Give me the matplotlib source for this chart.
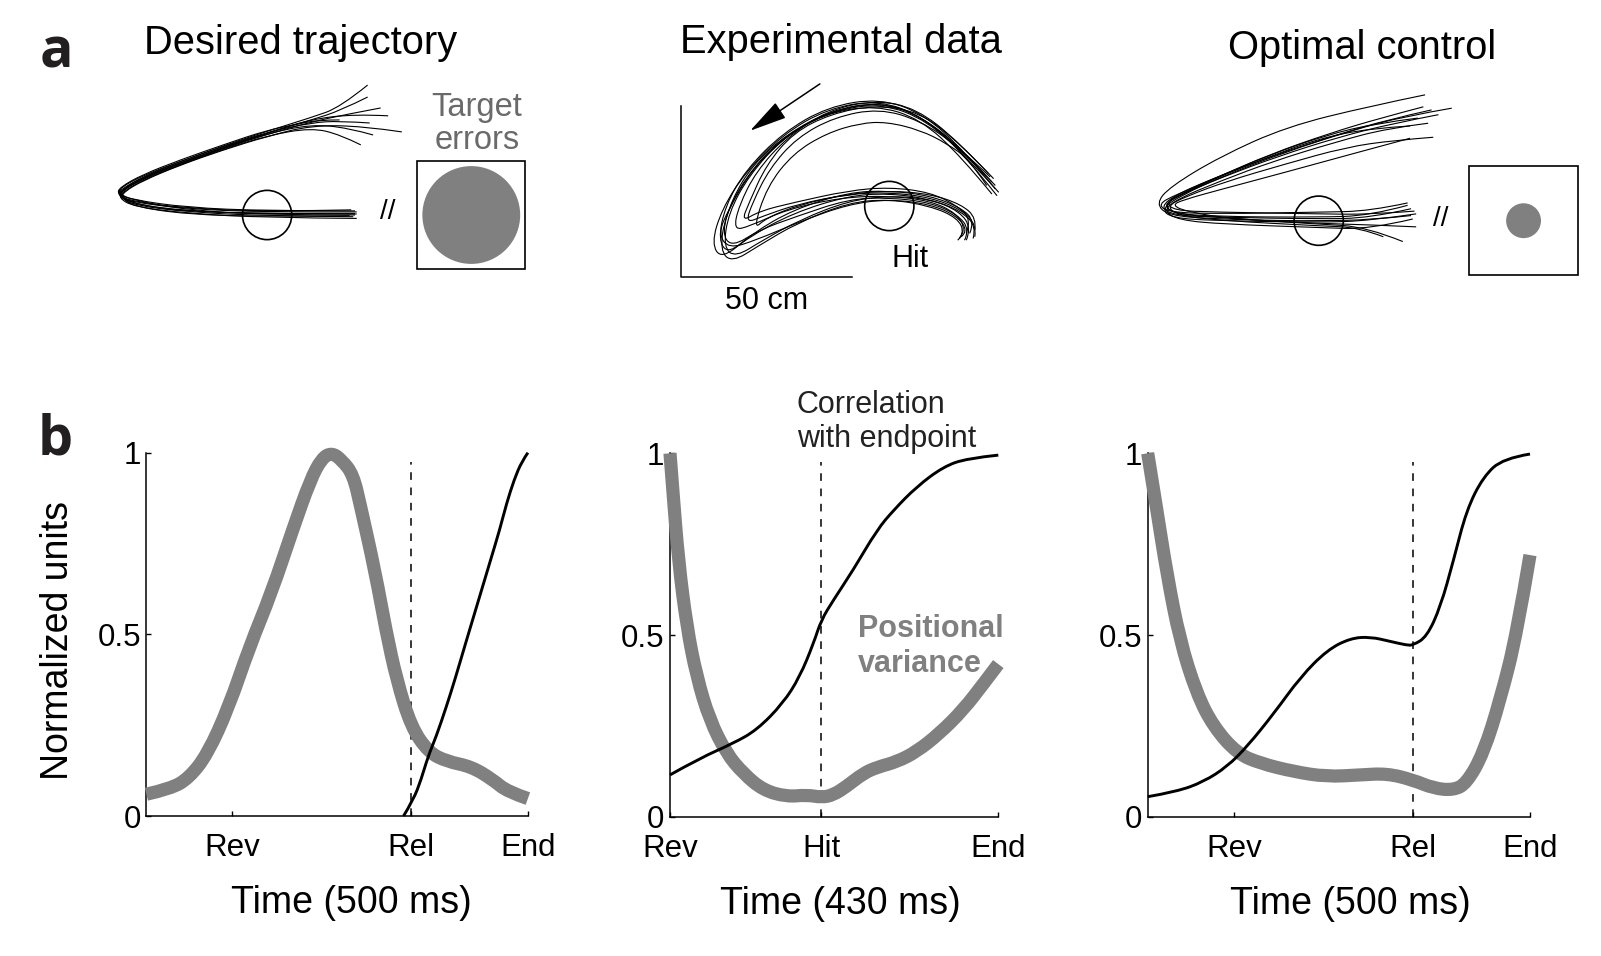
import numpy as np
import matplotlib
matplotlib.use('Agg')
import matplotlib.pyplot as plt
from matplotlib.path import Path
from matplotlib.patches import PathPatch, Circle, Rectangle

plt.rcParams['font.family'] = ['Liberation Sans', 'DejaVu Sans']

# ---------------- data: panel a (hand paths, cm, origin = target centre) ----------------
target_radius = 7.2
scale_bar_cm = 50
err_desired = 14.3     # target error disk radius (inset units)
err_optimal = 5.1

desired_trials = [
    [(29.4, 38.0), (21.4, 31.5), (12.9, 28.5), (0, 24.5), (-12.9, 20.2), (-25.7, 15.5), (-36.4, 11.2), (-42.3, 7.5), (-43.4, 5.5), (-39.6, 3.8), (-23.6, 1.8), (0, 0.8), (26.2, 0.9)],
    [(29.4, 34.5), (21.4, 30.5), (12.9, 27.8), (0, 24.0), (-12.9, 19.8), (-25.7, 15.0), (-36.4, 10.8), (-42.9, 7.0), (-43.6, 5.8), (-39.1, 3.2), (-23.6, 1.2), (0, 0.2), (25.7, 0.4)],
    [(33.2, 31.3), (23.6, 29.5), (12.9, 27.2), (0, 23.6), (-12.9, 19.4), (-25.7, 14.8), (-36.4, 10.5), (-42.3, 7.2), (-43.1, 5.2), (-38.6, 2.8), (-23.6, 0.9), (0, -0.3), (25.2, -0.5)],
    [(39.4, 24.3), (27.9, 26.0), (12.9, 26.2), (0, 23.0), (-12.9, 19.0), (-25.7, 14.5), (-36.4, 10.0), (-41.8, 6.8), (-42.6, 5.0), (-38.6, 2.4), (-23.6, 0.5), (0, -0.8), (26.2, -1.0)],
    [(31.0, 23.4), (23.6, 25.5), (12.9, 26.5), (0, 23.8), (-12.9, 19.6), (-25.7, 15.2), (-36.4, 11.0), (-42.3, 7.8), (-43.9, 6.0), (-39.6, 4.0), (-23.6, 2.0), (0, 1.0), (24.6, 1.5)],
    [(30.0, 26.9), (21.4, 27.5), (12.9, 27.0), (0, 24.2), (-12.9, 20.0), (-25.7, 15.6), (-36.4, 11.5), (-42.9, 8.0), (-43.4, 6.2), (-38.6, 4.2), (-23.6, 1.5), (0, 0.0), (25.7, 0.0)],
    [(27.4, 20.5), (21.4, 23.5), (12.9, 25.5), (0, 23.2), (-12.9, 19.2), (-25.7, 14.6), (-36.4, 10.2), (-41.8, 7.0), (-42.9, 5.5), (-38.0, 3.0), (-23.6, 1.0), (0, 0.5), (26.2, 0.3)],
    [(21.2, 27.8), (15.0, 27.8), (8.6, 26.5), (0, 24.8), (-12.9, 20.5), (-25.7, 16.0), (-36.4, 11.8), (-42.9, 8.2), (-43.9, 6.2), (-39.6, 4.5), (-23.6, 2.2), (0, 1.2), (25.7, 1.2)],
    [(35.4, 29.0), (25.7, 29.5), (12.9, 28.0), (0, 24.0), (-12.9, 19.5), (-25.7, 15.2), (-36.4, 10.6), (-42.3, 7.2), (-43.4, 5.0), (-39.1, 2.5), (-23.6, 0.2), (0, -0.5), (24.1, -0.2)],
]

experimental_trials = [
    [(31.5, 3.0), (22, 15), (10, 26), (-3, 31), (-18, 28.5), (-31, 21), (-42, 10), (-49, -1), (-52, -11), (-49, -15.5), (-41, -9), (-28, -2), (-12, 3), (0, 3.7), (12, 2), (21, -1.5), (25.5, -6), (24.5, -9.5)],
    [(31, 5), (22, 16), (10, 27), (-3, 31.5), (-18, 29), (-31, 21.5), (-42, 10.5), (-48, 0), (-50, -10), (-47, -14), (-40, -8), (-28, -1), (-12, 4), (0, 4.5), (12, 3), (21, -0.5), (25, -4.5), (23.5, -8)],
    [(30, 7), (21, 17), (9, 26.5), (-3, 30.5), (-17, 28), (-30, 21), (-40, 12), (-46, 2), (-49, -8), (-46, -12), (-38, -7), (-27, -3), (-12, 2), (0, 2.5), (12, 1), (20, -2.5), (23.5, -7), (22, -10)],
    [(30.5, 8), (21, 18), (9, 27.5), (-4, 29.5), (-17, 27), (-28, 21.5), (-36, 12), (-41, 1), (-43.2, -4.6), (-38, -1.5), (-28, 1.0), (-12, 4.5), (0, 5.5), (12, 4), (20, 0), (24, -4), (22.5, -8)],
    [(29, 9.5), (20, 19), (8, 28.5), (-4, 31), (-18, 28), (-30, 20), (-39, 10), (-44, 0), (-45.5, -7), (-41, -6), (-30, -1), (-14, 2.5), (0, 3), (12, 1.5), (19.5, -2), (22.5, -7), (20.5, -9.5)],
    [(32, 4), (23, 14), (11, 25), (-2, 30), (-16, 28), (-29, 21.5), (-40, 11), (-47, -1), (-50, -8), (-47, -12.5), (-39, -10), (-26, -4.5), (-12, 0.5), (0, 2), (12, 0.5), (20, -3), (23, -7.5), (21, -9)],
    [(28.5, 6), (23.5, 13.5), (16.8, 18.3), (9, 22.2), (-0.8, 24.6), (-8.6, 24.2), (-18.3, 21.3), (-28.1, 15.4), (-35.8, 5.6), (-39.8, -7.0), (-36, -3.5), (-26, 0.5), (-12, 3.5), (0, 4), (12, 2.5), (21, -1), (25.5, -5.5), (25, -9)],
    [(31, 6), (22, 15.5), (10, 26), (-3, 30.5), (-18, 27.5), (-31, 20), (-41, 9), (-47, -2), (-48.5, -12), (-45, -15), (-37, -10), (-26, -4), (-12, 1.5), (0, 3), (12, 2), (20.5, -1.5), (24, -6.5), (22.5, -10)],
    [(30, 3.5), (21, 14.5), (9, 25.5), (-4, 29.5), (-19, 27), (-32, 19.5), (-42, 8.5), (-48, -3), (-49.5, -13), (-46, -16.5), (-38, -11.5), (-27, -5), (-12, 1), (0, 2), (12, 0), (20, -3.5), (22, -8), (20, -10)],
    [(29.5, 8.5), (20, 17.5), (9, 25), (-3, 28.5), (-16, 26), (-27, 20), (-35, 11), (-40, 1), (-42, -5), (-37, -3), (-27, 0.5), (-12, 3.5), (0, 4.5), (12, 3.5), (21, 0.5), (25.5, -3.5), (25, -7)],
]

optimal_trials = [
    [(31.1, 36.8), (15, 33.5), (-9.4, 27.5), (-28.9, 18.7), (-43.5, 9.9), (-47.6, 5.0), (-44, 1.5), (-30, 0.5), (-10, 0), (0, 0), (15, 0.2), (27, 1.5)],
    [(38.9, 32.9), (25, 30.5), (10, 26.5), (-10, 20), (-28, 13), (-40, 7.5), (-46, 3.5), (-43, 0.8), (-30, 0), (0, -0.5), (15, 0), (28.5, 2.0)],
    [(33.0, 32.4), (20, 29.5), (5, 25), (-12, 19.5), (-28, 13.5), (-41, 8), (-46.5, 4.0), (-42, 1.5), (-28, 1.0), (0, 0.5), (15, 0.8), (27, 3.5)],
    [(26.7, 27.7), (15, 27.0), (0, 24), (-15, 18.5), (-30, 12.5), (-41, 7.2), (-45.5, 4.5), (-42, 2.0), (-28, 0.8), (0, -1.0), (14, -1.8), (24.6, -6.1)],
    [(33.5, 24.4), (22, 23.5), (8, 21.5), (-10, 16.5), (-27, 11.5), (-39, 7.0), (-44.5, 4.2), (-41, 1.5), (-28, 0), (0, -1.5), (12, -2), (18.9, -4.7)],
    [(30.6, 33.3), (18, 30), (3, 25.5), (-14, 19.5), (-29, 13), (-40, 8), (-45, 5.0), (-43, 2.2), (-30, 1.2), (0, 1.0), (15, 1.5), (26, 4.5)],
    [(26.7, 24.1), (10, 19.6), (-10, 14.1), (-28, 9.3), (-39.6, 6.1), (-43, 4.5), (-38, 2.5), (-25, 0.5), (0, -0.8), (15, -1.2), (28.5, -1.8)],
    [(29, 30), (17, 28.5), (2, 25), (-15, 19), (-30, 12.5), (-42, 7.5), (-47, 4.8), (-44, 2.5), (-30, 2.0), (0, 2.5), (15, 2.8), (26, 5.2)],
    [(32, 28.5), (20, 27), (5, 23), (-13, 17.5), (-29, 11.5), (-41, 6.5), (-45.5, 3.0), (-41, 0.2), (-28, -1.0), (0, -2.0), (15, -2.5), (27.5, 0.5)],
    [(35, 31), (22, 28.5), (6, 24.5), (-12, 18.8), (-28, 12.8), (-40, 7.8), (-44.5, 5.5), (-42.5, 3), (-30, 2.5), (0, 2.0), (15, 1.8), (28, 2.8)],
]

# ---------------- data: panel b (time in ms, normalized units) ----------------
desired_dur = 500
desired_events = [112, 347, 500]
desired_event_labels = ['Rev', 'Rel', 'End']
desired_var_t = [0, 32, 56, 80, 108, 135, 164, 192, 215, 230, 243, 256, 271, 281, 300, 314, 328, 347, 370, 394, 426, 454, 473, 500]
desired_var = [0.06, 0.075, 0.105, 0.17, 0.30, 0.465, 0.615, 0.79, 0.926, 0.985, 1.0, 0.98, 0.94, 0.85, 0.67, 0.51, 0.375, 0.245, 0.175, 0.15, 0.136, 0.10, 0.067, 0.048]
desired_corr_t = [337, 350, 360, 369, 380, 393, 405, 417, 430, 441, 452, 463, 472, 482, 492, 500]
desired_corr = [0.0, 0.045, 0.10, 0.163, 0.22, 0.30, 0.38, 0.466, 0.557, 0.634, 0.711, 0.788, 0.86, 0.926, 0.976, 1.0]

exp_dur = 430
exp_events = [0, 198, 430]
exp_event_labels = ['Rev', 'Hit', 'End']
exp_var_t = [0, 4, 11, 22, 35, 52, 74, 96, 122, 153, 179, 199, 214, 231, 253, 271, 297, 323, 353, 384, 411, 430]
exp_var = [1.0, 0.89, 0.706, 0.523, 0.385, 0.266, 0.174, 0.119, 0.073, 0.055, 0.060, 0.053, 0.060, 0.083, 0.119, 0.136, 0.151, 0.179, 0.229, 0.294, 0.367, 0.42]
exp_corr_t = [0, 39, 83, 114, 148, 170, 188, 198, 214, 240, 271, 293, 323, 358, 389, 430]
exp_corr = [0.115, 0.161, 0.202, 0.239, 0.312, 0.385, 0.477, 0.541, 0.596, 0.679, 0.789, 0.844, 0.908, 0.963, 0.986, 0.995]

opt_dur = 500
opt_events = [113, 347, 500]
opt_event_labels = ['Rev', 'Rel', 'End']
opt_var_t = [0, 12, 25, 42, 64, 86, 117, 147, 191, 234, 278, 313, 347, 374, 400, 417, 439, 461, 483, 500]
opt_var = [1.0, 0.844, 0.67, 0.486, 0.339, 0.248, 0.174, 0.147, 0.124, 0.11, 0.115, 0.119, 0.101, 0.078, 0.073, 0.092, 0.174, 0.321, 0.505, 0.72]
opt_corr_t = [0, 38, 73, 104, 130, 165, 200, 235, 265, 291, 318, 339, 347, 365, 383, 400, 417, 439, 465, 500]
opt_corr = [0.055, 0.069, 0.096, 0.138, 0.193, 0.284, 0.385, 0.459, 0.491, 0.495, 0.482, 0.472, 0.472, 0.495, 0.578, 0.706, 0.844, 0.936, 0.986, 0.998]

GREY = '#808080'
W, H = 1601, 956
PX = 3.42   # reference pixels per cm in the trajectory panels

fig = plt.figure(figsize=(W / 100, H / 100), dpi=100)


def px_axes(x0, y0, x1, y1):
    return fig.add_axes([x0 / W, 1 - y1 / H, (x1 - x0) / W, (y1 - y0) / H])


def cm_axes(cx, cy, x0, y0, x1, y1):
    # axes whose data units are cm, target centre at pixel (cx, cy)
    ax = px_axes(x0, y0, x1, y1)
    ax.set_xlim((x0 - cx) / PX, (x1 - cx) / PX)
    ax.set_ylim((cy - y1) / PX, (cy - y0) / PX)
    ax.axis('off')
    return ax


def smooth_path(pts):
    pts = np.asarray(pts, float)
    verts = [pts[0]]
    codes = [Path.MOVETO]
    for i in range(1, len(pts) - 2):
        verts += [pts[i], (pts[i] + pts[i + 1]) / 2]
        codes += [Path.CURVE3, Path.CURVE3]
    verts += [pts[-2], pts[-1]]
    codes += [Path.CURVE3, Path.CURVE3]
    return Path(verts, codes)


def draw_trials(ax, trials):
    for tr in trials:
        ax.add_patch(PathPatch(smooth_path(tr), fill=False, ec='k', lw=0.8))
    ax.add_patch(Circle((0, 0), target_radius, fill=False, ec='k', lw=1.2))


def error_inset(ax, cx, side, radius):
    ax.add_patch(Rectangle((cx - side / 2, -side / 2), side, side, fill=False, ec='k', lw=1.2))
    ax.add_patch(Circle((cx, 0), radius, fc=GREY, ec='none'))


# ---- panel a ----
ax_a1 = cm_axes(267.1, 215, 95, 70, 545, 300)
draw_trials(ax_a1, desired_trials)
ax_a1.text(35.3, 1.0, '//', fontsize=20, ha='center', va='center')
error_inset(ax_a1, 59.7, 31.7, err_desired)
ax_a1.text(61.3, 19.2, 'Target\nerrors', fontsize=23.5, color='#6a6a6a', ha='center',
           va='baseline', multialignment='center', linespacing=1.08)

ax_a2 = cm_axes(889.3, 206, 650, 70, 1020, 330)
draw_trials(ax_a2, experimental_trials)
bar_x, bar_y = -60.9, -20.7
ax_a2.plot([bar_x, bar_x, bar_x + scale_bar_cm], [bar_y + scale_bar_cm, bar_y, bar_y], color='k', lw=1.1)
ax_a2.text(bar_x + scale_bar_cm / 2, bar_y - 9.5, '%d cm' % scale_bar_cm, fontsize=22, ha='center', va='baseline')
ax_a2.text(6.0, -17.7, 'Hit', fontsize=22, ha='center', va='baseline')
ax_a2.annotate('', xy=(-40.7, 22.0), xytext=(-20.3, 35.7),
               arrowprops=dict(arrowstyle='-|>,head_length=1.3,head_width=0.32', lw=1.1,
                               color='k', mutation_scale=18, shrinkA=0, shrinkB=0))

ax_a3 = cm_axes(1318.7, 220.7, 1120, 70, 1595, 300)
draw_trials(ax_a3, optimal_trials)
ax_a3.text(35.8, 0.6, '//', fontsize=20, ha='center', va='center')
error_inset(ax_a3, 59.9, 31.9, err_optimal)

fig.text(301 / W, 1 - 54 / H, 'Desired trajectory', fontsize=28.7, ha='center', va='baseline')
fig.text(841 / W, 1 - 53.3 / H, 'Experimental data', fontsize=28.7, ha='center', va='baseline')
fig.text(1362.5 / W, 1 - 59 / H, 'Optimal control', fontsize=28.7, ha='center', va='baseline')
fig.text(40 / W, 1 - 68 / H, 'a', fontsize=40, fontweight='bold', family=['Open Sans', 'DejaVu Sans'], va='baseline', color='#231f20')
fig.text(38 / W, 1 - 454 / H, 'b', fontsize=40, fontweight='bold', family=['Open Sans', 'DejaVu Sans'], va='baseline', color='#231f20')


# ---- panel b ----
def style_b(ax, dur, ticks, labels, xlabel_x):
    ax.set_xlim(0, dur)
    ax.set_ylim(0, 1)
    for s in ['top', 'right']:
        ax.spines[s].set_visible(False)
    for s in ['left', 'bottom']:
        ax.spines[s].set_linewidth(1.1)
    ax.set_yticks([0, 0.5, 1])
    ax.set_yticklabels(['0', '0.5', '1'])
    ax.set_xticks(ticks)
    ax.set_xticklabels(labels)
    ax.tick_params(direction='in', length=3.5, width=1, labelsize=22.5)
    ax.tick_params(axis='x', pad=12.5)
    ax.tick_params(axis='y', pad=4)
    ax.set_xlabel('Time (%d ms)' % dur, fontsize=27, va='center')
    ax.xaxis.set_label_coords(xlabel_x, -0.239)


def draw_b(ax, var_t, var, corr_t, corr, event):
    ax.axvline(event, ymax=0.975, color='k', lw=1.1, dashes=(5, 5))
    ax.add_patch(PathPatch(smooth_path(list(zip(var_t, var))), fill=False, ec=GREY, lw=9.5,
                           capstyle='butt', joinstyle='round', clip_on=False, zorder=3))
    ax.add_patch(PathPatch(smooth_path(list(zip(corr_t, corr))), fill=False, ec='k', lw=2.1,
                           clip_on=False, zorder=4))


ax_b1 = px_axes(146.4, 452.7, 527.9, 816)
draw_b(ax_b1, desired_var_t, desired_var, desired_corr_t, desired_corr, desired_events[1])
style_b(ax_b1, desired_dur, desired_events, desired_event_labels, 0.538)
ax_b1.set_ylabel('Normalized units', fontsize=27, va='center')
ax_b1.yaxis.set_label_coords(-0.232, 0.484)

ax_b2 = px_axes(670, 453.3, 998.3, 816.7)
draw_b(ax_b2, exp_var_t, exp_var, exp_corr_t, exp_corr, exp_events[1])
style_b(ax_b2, exp_dur, exp_events, exp_event_labels, 0.518)
ax_b2.text(0.386, 1.017, 'Correlation\nwith endpoint', transform=ax_b2.transAxes, fontsize=22,
           color='#222222', va='baseline', ha='left', linespacing=1.2)
ax_b2.text(0.573, 0.399, 'Positional\nvariance', transform=ax_b2.transAxes, fontsize=22,
           color=GREY, fontweight='bold', va='baseline', ha='left', linespacing=1.2)

ax_b3 = px_axes(1147.7, 453.3, 1530, 816.7)
draw_b(ax_b3, opt_var_t, opt_var, opt_corr_t, opt_corr, opt_events[1])
style_b(ax_b3, opt_dur, opt_events, opt_event_labels, 0.531)

fig.savefig('out.png', dpi=100)
